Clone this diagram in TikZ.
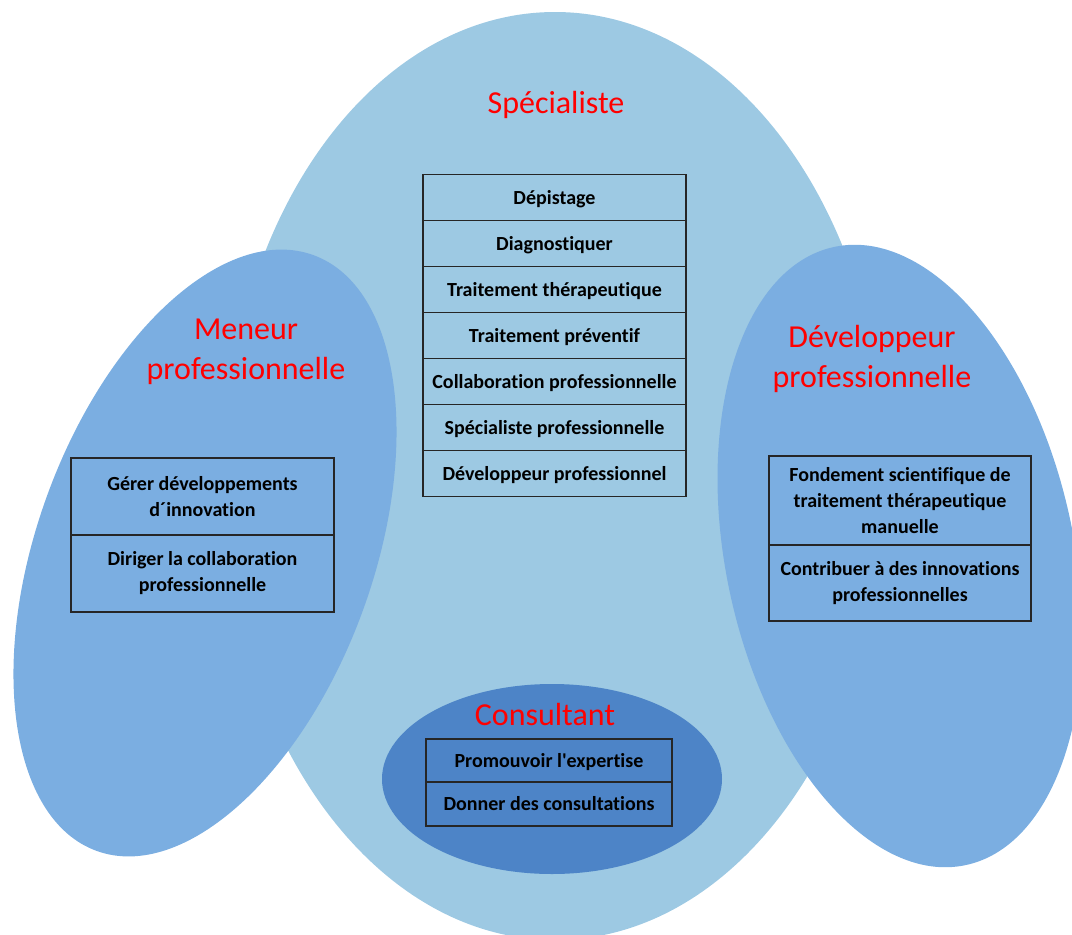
\documentclass[tikz,border=0pt]{standalone}
\usepackage{fontspec}
\setmainfont{Carlito}[Ligatures={TeXOff,NoCommon}]
\usepackage{tikz}
\usetikzlibrary{positioning}

\definecolor{paleblue}{RGB}{157,201,227}
\definecolor{midblue}{RGB}{123,174,225}
\definecolor{deepblue}{RGB}{77,132,199}

\begin{document}
\begin{tikzpicture}[x=1pt, y=-1pt,
	title/.style={text=red, font=\fontsize{32}{40}\selectfont, align=center},
	cell/.style={draw=black!85, line width=1.3pt, inner sep=0pt, outer sep=0pt, align=center,
		font=\fontsize{20}{26}\selectfont\bfseries},
	rowcell/.style={cell, minimum width=263, minimum height=46, text height=15pt, text depth=2pt}]
	\useasboundingbox (0,0) rectangle (1072,935);
	\clip (0,0) rectangle (1072,935);

% draw ellipses
	\fill[paleblue] (555,476) ellipse [x radius=331, y radius=464];
	\fill[midblue, rotate around={-20:(205,553)}] (205,553) ellipse [x radius=168, y radius=317];
	\fill[midblue, rotate around={12:(900,556)}] (900,556) ellipse [x radius=174, y radius=316];
	\fill[deepblue] (552,779) ellipse [x radius=170, y radius=95];

% titles
	\node[title] (spec) at (556,105) {Spécialiste};
	\node[title] (men) at (246,352) {Meneur\\professionnelle};
	\node[title] (dev) at (872,359) {Développeur\\professionnelle};
	\node[title] (cons) at (545,714) {Consultant};

% Specialiste cells
	\node[rowcell] (depi) at (554.5,197.5) {Dépistage};
	\node[rowcell, below=0pt of depi] (diag) {Diagnostiquer};
	\node[rowcell, below=0pt of diag] (trth) {Traitement thérapeutique};
	\node[rowcell, below=0pt of trth] (trpr) {Traitement préventif};
	\node[rowcell, below=0pt of trpr] (colpro) {Collaboration professionnelle};
	\node[rowcell, below=0pt of colpro] (specpro) {Spécialiste professionnelle};
	\node[rowcell, below=0pt of specpro] (devpro) {Développeur professionnel};

% Meneur cells
	\node[cell, minimum width=263, minimum height=77] (gerer) at (202.5,496.5) {Gérer développements\\d´innovation};
	\node[cell, minimum width=263, minimum height=77, below=0pt of gerer] (diriger) {Diriger la collaboration\\professionnelle};

% Developpeur cells
	\node[cell, minimum width=262, minimum height=89] (fond) at (900,500.5) {Fondement scientifique de\\traitement thérapeutique\\manuelle};
	\node[cell, minimum width=262, minimum height=76, below=0pt of fond] (contrib) {Contribuer à des innovations\\professionnelles};

% Consultant cells
	\node[rowcell, minimum width=246, minimum height=43] (promo) at (549,760.5) {Promouvoir l'expertise};
	\node[rowcell, minimum width=246, minimum height=44, below=0pt of promo] (donner) {Donner des consultations};

\end{tikzpicture}
\end{document}
